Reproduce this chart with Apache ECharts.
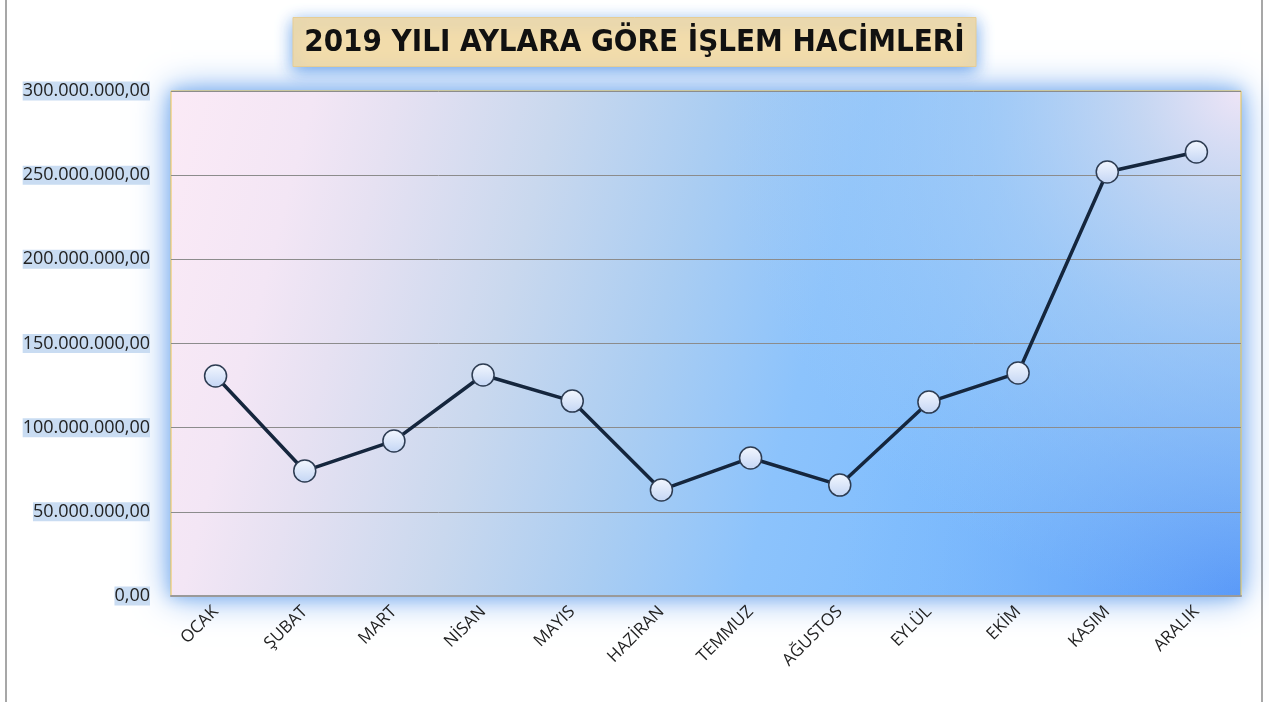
<!DOCTYPE html>
<html><head><meta charset="utf-8">
<script src="https://cdn.jsdelivr.net/npm/echarts@6/dist/echarts.min.js"></script>
<style>html,body{margin:0;padding:0;background:#fff}#c{width:1269px;height:702px}</style>
</head><body><div id="c"></div>
<script>
const months = ['OCAK','ŞUBAT','MART','NİSAN','MAYIS','HAZİRAN','TEMMUZ','AĞUSTOS','EYLÜL','EKİM','KASIM','ARALIK'];
const volumes = [130700000, 74300000, 92100000, 131300000, 115800000, 63000000, 82000000, 65900000, 115200000, 132500000, 251900000, 263800000];
const titleText = '2019 YILI AYLARA GÖRE İŞLEM HACİMLERİ';

function fmt(v){
  const s = Math.round(v).toString().replace(/\B(?=(\d{3})+(?!\d))/g,'.');
  return s + ',00';
}
const G = {left:171, top:91, right:28, bottom:106};
const W = 1269, H = 702;
const gw = W - G.left - G.right, gh = H - G.top - G.bottom;
const x1 = G.left + gw, y1 = G.top + gh;
const rectShape = {x:G.left,y:G.top,width:gw,height:gh};

const chart = echarts.init(document.getElementById('c'));
chart.setOption({
  animation:false,
  backgroundColor:'#fff',
  graphic:[
    {type:'rect',shape:{x:6,y:-2,width:1256,height:706},style:{fill:'none',stroke:'#8a8a8a',lineWidth:1.5},z:-10,silent:true},
    {type:'rect',shape:rectShape,style:{fill:'#a9cbf2',shadowBlur:34,shadowColor:'rgba(110,165,238,1)'},z:-5,silent:true},
    {type:'rect',shape:rectShape,style:{fill:'#a9cbf2',shadowBlur:14,shadowColor:'rgba(140,185,240,1)'},z:-4,silent:true},
    {type:'rect',shape:rectShape,style:{fill:{type:'linear',global:true,x:181.7,y:48.2,x2:1306.7,y2:346.8,colorStops:[
        {offset:0,color:'#fbeaf6'},{offset:0.12,color:'#f3e6f5'},{offset:0.19,color:'#e6e1f2'},
        {offset:0.325,color:'#c9d8ee'},{offset:0.457,color:'#aacdf2'},{offset:0.586,color:'#8cc3fc'},
        {offset:0.7,color:'#82befd'},{offset:1,color:'#78b6fb'}]}},z:-3,silent:true},
    {type:'rect',shape:rectShape,style:{fill:{type:'radial',global:true,x:x1,y:y1,r:400,colorStops:[
        {offset:0,color:'rgba(88,152,248,1)'},{offset:0.45,color:'rgba(100,165,250,0.55)'},{offset:1,color:'rgba(120,185,253,0)'}]}},z:-2,silent:true},
    {type:'rect',shape:rectShape,style:{fill:{type:'radial',global:true,x:x1,y:G.top,r:520,colorStops:[
        {offset:0,color:'rgba(244,231,246,0.95)'},{offset:0.2,color:'rgba(214,221,240,0.8)'},
        {offset:0.5,color:'rgba(185,212,242,0.5)'},{offset:0.8,color:'rgba(175,208,242,0.2)'},{offset:1,color:'rgba(170,205,242,0)'}]}},z:-1,silent:true}
  ],
  title:{text:titleText,left:'center',top:17,
    backgroundColor:'#f2dcab',padding:[10,12,9,12],
    borderColor:'#e6cd95',borderWidth:1,
    shadowBlur:16,shadowOffsetY:4,shadowColor:'rgba(100,160,235,0.95)',
    textStyle:{fontFamily:'DejaVu Sans Condensed, sans-serif',fontWeight:'bold',fontSize:31,color:'#111'}},
  grid:{left:G.left,right:G.right,top:G.top,bottom:G.bottom,show:true,
    borderColor:'#efc64a',borderWidth:1,backgroundColor:'transparent'},
  xAxis:{type:'category',data:months,boundaryGap:true,
    axisLine:{lineStyle:{color:'#9a9a9a',width:2}},axisTick:{show:false},
    axisLabel:{rotate:45,margin:13,fontFamily:'Open Sans, sans-serif',fontSize:17,color:'#222'}},
  yAxis:{type:'value',min:0,max:300000000,interval:50000000,
    axisLine:{show:false},axisTick:{show:false},
    splitLine:{lineStyle:{color:'#8c8c8c',width:1}},
    axisLabel:{formatter:fmt,margin:21,fontFamily:'Open Sans, sans-serif',fontSize:18,color:'#222',
      backgroundColor:'#c9dcf2',padding:[1,0,0,0]}},
  series:[{type:'line',data:volumes,symbol:'circle',symbolSize:22,
    lineStyle:{color:'#15263d',width:3.5},
    itemStyle:{color:{type:'linear',x:0,y:0,x2:0,y2:1,colorStops:[{offset:0,color:'#f4f8ff'},{offset:1,color:'#c3d5f4'}]},
      borderColor:'#2d3c52',borderWidth:1.5}}]
});
</script></body></html>
